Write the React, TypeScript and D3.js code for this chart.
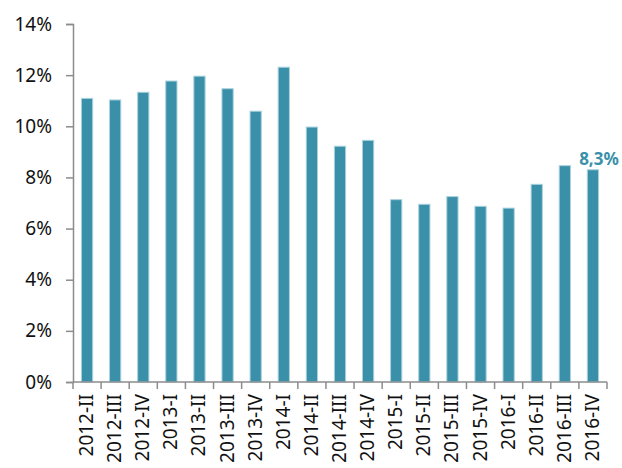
import { useEffect, useRef } from "react";
import * as d3 from "d3";

const categories = [
  "2012-II", "2012-III", "2012-IV",
  "2013-I", "2013-II", "2013-III", "2013-IV",
  "2014-I", "2014-II", "2014-III", "2014-IV",
  "2015-I", "2015-II", "2015-III", "2015-IV",
  "2016-I", "2016-II", "2016-III", "2016-IV",
];
const values = [
  11.09, 11.03, 11.33,
  11.77, 11.96, 11.47, 10.59,
  12.31, 9.97, 9.22, 9.45,
  7.13, 6.95, 7.25, 6.87,
  6.8, 7.73, 8.46, 8.3,
];
const yTicks = [0, 2, 4, 6, 8, 10, 12, 14];
const lastLabel = "8,3%";

const W = 622;
const H = 468;
const margin = { top: 24, right: 15, bottom: 86, left: 73 };
const barColor = "#3a90a8";
const font = "'Noto Sans', sans-serif";

const App = () => {
  const ref = useRef<SVGSVGElement>(null);

  useEffect(() => {
    const svg = d3.select(ref.current);
    svg.selectAll("*").remove();

    const x = d3
      .scaleBand()
      .domain(categories)
      .range([margin.left, W - margin.right])
      .paddingInner(0.6)
      .paddingOuter(0.3);
    const y = d3.scaleLinear().domain([0, 14]).range([H - margin.bottom, margin.top]);

    // bars
    svg
      .append("g")
      .selectAll("rect")
      .data(values)
      .join("rect")
      .attr("x", (d, i) => x(categories[i])!)
      .attr("y", (d) => y(d))
      .attr("width", x.bandwidth())
      .attr("height", (d) => y(0) - y(d))
      .attr("fill", barColor)
      .attr("stroke", "#a9d2de")
      .attr("stroke-width", 1);

    // y axis
    const yAxis = svg
      .append("g")
      .attr("transform", `translate(${margin.left},0)`)
      .call(
        d3
          .axisLeft(y)
          .tickValues(yTicks)
          .tickSize(7)
          .tickPadding(14)
          .tickFormat((d) => `${d}%`)
      );
    yAxis.select(".domain").attr("stroke", "#8c8c8c").attr("stroke-width", 1.5);
    yAxis.selectAll(".tick line").attr("stroke", "#8c8c8c").attr("stroke-width", 1.5);
    yAxis
      .selectAll(".tick text")
      .attr("fill", "#111")
      .style("font-family", font)
      .style("font-size", "19px");

    // x axis with ticks on band edges
    const step = x.step();
    const edges = d3.range(categories.length + 1).map((i) => margin.left + i * step);
    const xg = svg.append("g");
    xg.append("line")
      .attr("x1", margin.left)
      .attr("x2", W - margin.right)
      .attr("y1", y(0))
      .attr("y2", y(0))
      .attr("stroke", "#8c8c8c")
      .attr("stroke-width", 1.5);
    xg.selectAll("line.edge")
      .data(edges)
      .join("line")
      .attr("class", "edge")
      .attr("x1", (d) => d)
      .attr("x2", (d) => d)
      .attr("y1", y(0))
      .attr("y2", y(0) + 7)
      .attr("stroke", "#8c8c8c")
      .attr("stroke-width", 1.5);
    xg.selectAll("text")
      .data(categories)
      .join("text")
      .attr(
        "transform",
        (d) => `translate(${x(d)! + x.bandwidth() / 2 + 6},${y(0) + 12}) rotate(-90)`
      )
      .attr("text-anchor", "end")
      .attr("fill", "#111")
      .style("font-family", font)
      .style("font-size", "19px")
      .text((d) => d);

    // value label on last bar
    const last = categories[categories.length - 1];
    svg
      .append("text")
      .attr("x", x(last)! + x.bandwidth() / 2 + 6)
      .attr("y", y(values[values.length - 1]) - 5)
      .attr("text-anchor", "middle")
      .attr("fill", barColor)
      .style("font-family", font)
      .style("font-size", "17px")
      .style("font-weight", "bold")
      .text(lastLabel);
  }, []);

  return (
    <svg
      ref={ref}
      width={W}
      height={H}
      style={{ position: "absolute", left: 0, top: 0, overflow: "visible" }}
    />
  );
};

export default App;
